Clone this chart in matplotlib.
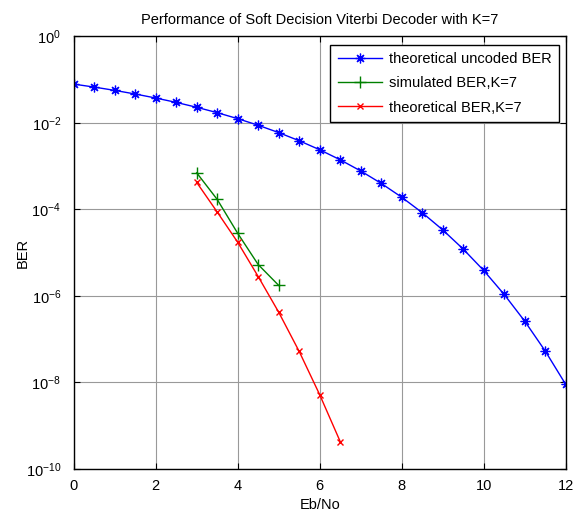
import matplotlib
matplotlib.use("Agg")
import matplotlib.pyplot as plt

plt.rcParams['font.family'] = ['Liberation Sans', 'DejaVu Sans']

ebno_uncoded = [0, 0.5, 1, 1.5, 2, 2.5, 3, 3.5, 4, 4.5, 5, 5.5, 6, 6.5, 7, 7.5, 8,
                8.5, 9, 9.5, 10, 10.5, 11, 11.5, 12]
ber_uncoded = [7.86e-2, 6.71e-2, 5.63e-2, 4.64e-2, 3.75e-2, 2.97e-2, 2.29e-2, 1.72e-2,
               1.25e-2, 8.80e-3, 5.95e-3, 3.86e-3, 2.39e-3, 1.40e-3, 7.73e-4, 3.99e-4,
               1.91e-4, 8.40e-5, 3.36e-5, 1.21e-5, 3.87e-6, 1.08e-6, 2.61e-7, 5.33e-8,
               9.0e-9]

ebno_sim = [3, 3.5, 4, 4.5, 5]
ber_sim = [7.0e-4, 1.7e-4, 2.8e-5, 5.3e-6, 1.75e-6]

ebno_theo = [3, 3.5, 4, 4.5, 5, 5.5, 6, 6.5]
ber_theo = [4.2e-4, 8.7e-5, 1.74e-5, 2.8e-6, 4.2e-7, 5.2e-8, 5.2e-9, 4.3e-10]

FS = 10.5

fig = plt.figure(figsize=(5.73, 5.13), dpi=100)
ax = fig.add_axes([0.1286, 0.0858, 0.8587, 0.8434])

ax.semilogy(ebno_uncoded, ber_uncoded, color='#0000ff', marker=(8, 2, 0), markersize=7,
            markeredgewidth=0.9, linewidth=1, label='theoretical uncoded BER')
ax.semilogy(ebno_sim, ber_sim, color='#008000', marker='+', markersize=9,
            markeredgewidth=1.0, linewidth=1, label='simulated BER,K=7')
ax.semilogy(ebno_theo, ber_theo, color='#ff0000', marker='x', markersize=5,
            markeredgewidth=1.0, linewidth=1, label='theoretical BER,K=7')

ax.set_xlim(0, 12)
ax.set_ylim(1e-10, 1e0)
ax.set_xticks([0, 2, 4, 6, 8, 10, 12])
ax.set_yticks([1e0, 1e-2, 1e-4, 1e-6, 1e-8, 1e-10])
ax.yaxis.set_minor_locator(matplotlib.ticker.NullLocator())
ax.grid(True, color='#999999', linewidth=0.8, linestyle='-')
ax.tick_params(direction='in', labelsize=FS, length=4, top=True, right=True)
ax.tick_params(axis='x', pad=7)
ax.tick_params(axis='y', pad=9)
for s in ax.spines.values():
    s.set_linewidth(1.0)

ax.set_title('Performance of Soft Decision Viterbi Decoder with K=7', fontsize=FS, pad=9)
ax.set_xlabel('Eb/No', fontsize=FS, labelpad=4)
ax.set_ylabel('BER', fontsize=FS, labelpad=-3)

leg = ax.legend(loc='upper right', bbox_to_anchor=(0.992, 0.987), fontsize=FS,
                fancybox=False, framealpha=1, edgecolor='black', handlelength=3.0,
                handletextpad=0.5, borderaxespad=0.2, labelspacing=0.7, borderpad=0.5)
leg.get_frame().set_linewidth(1.0)

fig.savefig('out.png', dpi=100)
